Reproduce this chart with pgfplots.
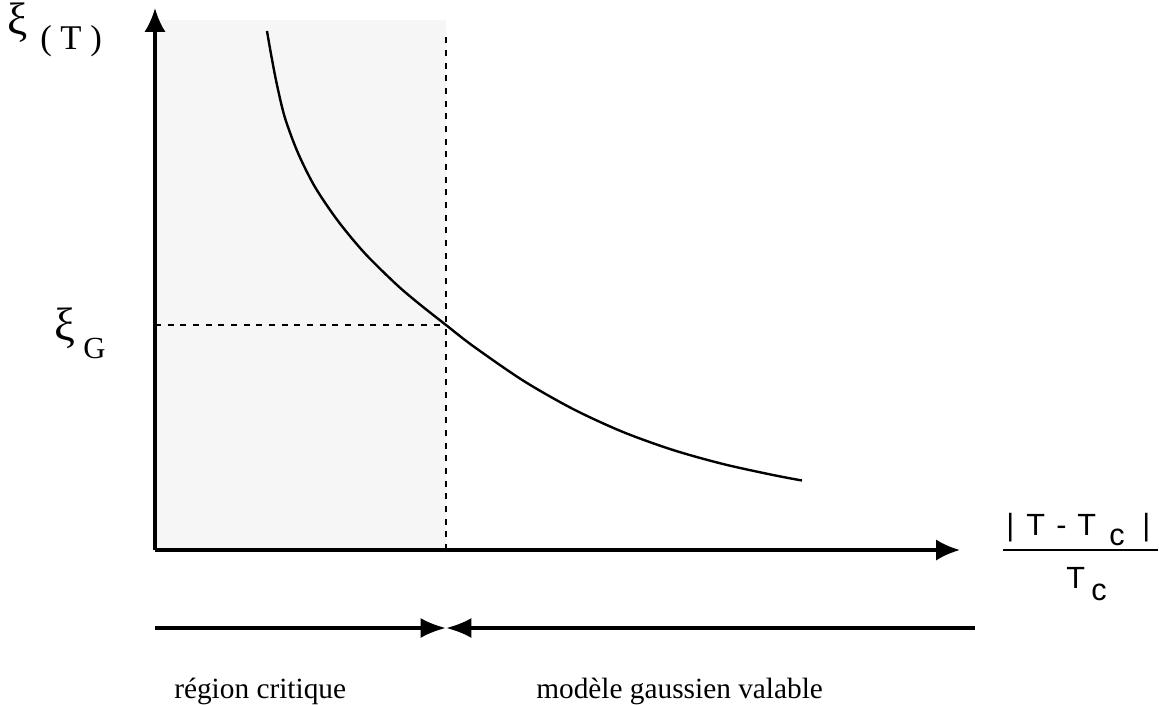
\documentclass[border=0pt]{standalone}
\usepackage{pgfplots}
\pgfplotsset{compat=1.18}
\usetikzlibrary{arrows.meta}
\usepackage{fontspec}
\setmainfont{Liberation Serif}
\newfontfamily\sans{Liberation Sans}
\definecolor{shade}{RGB}{246,246,246}
\begin{document}
\begin{tikzpicture}
\begin{axis}[
  x=0.75pt, y=0.75pt,
  xmin=0, xmax=805, ymin=0, ymax=542,
  axis lines=left,
  xtick=\empty, ytick=\empty,
  axis line style={line width=2.4pt, -{Latex[length=18pt,width=16pt]}},
  axis on top,
  clip=false,
]
\coordinate (BL) at (axis cs:-155,-154);
\coordinate (TR) at (axis cs:1004,550);
% shaded critical region
\addplot[fill=shade, draw=none] coordinates {(0,530) (291,530)} \closedcycle;
% dashed lines
\addplot[line width=1.3pt, dash pattern=on 4.5pt off 5pt] coordinates {(291,0) (291,518)};
\addplot[line width=1.3pt, dash pattern=on 4.5pt off 5pt] coordinates {(0,225) (291,225)};
% curve xi(T)
\addplot[smooth, line width=1.8pt] coordinates {
(112,519) (116,496) (122,465) (130,432) (143,397) (160,363) (183,329)
(210,296.5) (242,265) (265,245.5) (291,225) (318,204) (368,169.5)
(418,141) (468,118) (518,100) (568,86) (618,75) (647,69.5)};
% bottom arrows
\addplot[line width=2.6pt, -{Latex[length=19pt,width=15pt]}] coordinates {(0,-78) (291,-78)};
\addplot[line width=2.6pt, -{Latex[length=19pt,width=15pt]}] coordinates {(820,-78) (291,-78)};
% labels
\node[anchor=base west, inner sep=0, font=\fontsize{34}{38}\selectfont] at (axis cs:-148,515) {ξ};
\node[anchor=base west, inner sep=0, font=\fontsize{26}{30}\selectfont] at (axis cs:-115,500) {(\ T\ )};
\node[anchor=base west, inner sep=0, font=\fontsize{35}{40}\selectfont] at (axis cs:-101,210) {ξ};
\node[anchor=base west, inner sep=0, font=\fontsize{23}{26}\selectfont] at (axis cs:-72,192) {G};
% fraction
\node[anchor=base west, inner sep=0, font=\sans\fontsize{23}{26}\selectfont] at (axis cs:851,15) {|};
\node[anchor=base west, inner sep=0, font=\sans\fontsize{23}{26}\selectfont] at (axis cs:871,15) {T};
\node[anchor=base west, inner sep=0, font=\sans\fontsize{23}{26}\selectfont] at (axis cs:901,15) {-};
\node[anchor=base west, inner sep=0, font=\sans\fontsize{23}{26}\selectfont] at (axis cs:922,15) {T};
\node[anchor=base west, inner sep=0, font=\sans\fontsize{23}{26}\selectfont] at (axis cs:954,5) {c};
\node[anchor=base west, inner sep=0, font=\sans\fontsize{23}{26}\selectfont] at (axis cs:987,15) {|};
\addplot[line width=2.2pt] coordinates {(848,0) (1003,0)};
\node[anchor=base west, inner sep=0, font=\sans\fontsize{23}{26}\selectfont] at (axis cs:911,-38) {T};
\node[anchor=base west, inner sep=0, font=\sans\fontsize{23}{26}\selectfont] at (axis cs:936,-50) {c};
% bottom texts
\node[anchor=base west, inner sep=0, font=\fontsize{22}{26}\selectfont] at (axis cs:19,-148) {région critique};
\node[anchor=base west, inner sep=0, font=\fontsize{22}{26}\selectfont] at (axis cs:381,-148) {modèle gaussien valable};
\end{axis}
\pgfresetboundingbox
\path[use as bounding box] (BL) rectangle (TR);
\end{tikzpicture}
\end{document}
